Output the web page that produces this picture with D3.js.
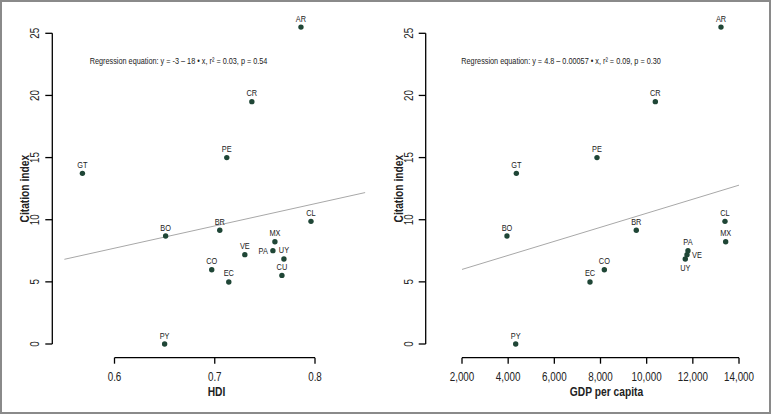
<!DOCTYPE html>
<html><head><meta charset="utf-8">
<script src="https://cdn.jsdelivr.net/npm/d3@7"></script>
<style>
html,body{margin:0;padding:0;background:#fff;}
svg{display:block;}
text{font-family:"Liberation Sans",Arial,sans-serif;fill:#222;}
</style></head>
<body>
<svg id="chart" width="771" height="414"></svg>
<script>
// ---- data ----
const countries = ["AR","CR","PE","GT","BO","BR","CL","MX","VE","PA","UY","CO","CU","EC","PY"];
const hdi       = [0.786,0.737,0.712,0.568,0.651,0.705,0.796,0.760,0.730,0.758,0.769,0.697,0.767,0.714,0.650];
const gdp       = [13220,10375,7848,4354,3949,9551,13393,13423,11747,11790,11673,8166,null,7545,4326];
const citation  = [25.5,19.5,15.0,13.73,8.69,9.15,9.87,8.23,7.19,7.51,6.84,5.98,5.52,4.99,0.0];

const yTicks    = [0,5,10,15,20,25];
const hdiTicks  = [0.6,0.7,0.8];
const gdpTicks  = [2000,4000,6000,8000,10000,12000,14000];

const hdiFit = {intercept:-3.03, slope:17.9, from:0.55, to:0.85};
const gdpFit = {intercept:4.87, slope:0.000565, from:2000, to:14000};
const hdiEq = "Regression equation: y = -3 \u2013 18 \u2022 x, r\u00b2 = 0.03, p = 0.54";
const gdpEq = "Regression equation: y = 4.8 \u2013 0.00057 \u2022 x, r\u00b2 = 0.09, p = 0.30";

// ---- drawing ----
const svg = d3.select("#chart");
svg.append("rect").attr("x",1).attr("y",1).attr("width",769).attr("height",412)
  .attr("fill","none").attr("stroke","#8a8a8a").attr("stroke-width",2);

const NARROW = 0.82;
function ntext(parent, x, y0, rot, str, size, anchor, weight, fill){
  const t = parent.append("g").attr("transform",`translate(${x},${y0}) rotate(${rot}) scale(${NARROW},1)`)
    .append("text").attr("x",0).attr("y",0).attr("font-size",size).attr("text-anchor",anchor||"start")
    .text(str);
  if(weight) t.attr("font-weight",weight);
  if(fill) t.attr("fill",fill);
  return t;
}

const y = d3.scaleLinear().domain([0,25]).range([344,33.3]);
const ptColor = "#1f4636";

function panel(opts){
  const g = svg.append("g");
  const x = d3.scaleLinear().domain(opts.xdom).range(opts.xrange);
  // y axis
  const ya = g.append("g").attr("transform",`translate(${opts.yAxisX},0)`);
  ya.append("line").attr("y1",y(0)).attr("y2",y(25)).attr("stroke","#000").attr("stroke-width",1.3);
  yTicks.forEach(t=>{
    ya.append("line").attr("x1",0).attr("x2",-7).attr("y1",y(t)).attr("y2",y(t)).attr("stroke","#000").attr("stroke-width",1.3);
    ntext(ya, -13, y(t), -90, t, 12, "middle", null, "#333");
  });
  ntext(g, opts.yAxisX-23, (y(0)+y(25))/2, -90, "Citation index", 12.5, "middle", "bold", "#111");
  // x axis
  const axY = 357.7;
  const xa = g.append("g");
  xa.append("line").attr("x1",x(opts.ticks[0])).attr("x2",x(opts.ticks[opts.ticks.length-1]))
    .attr("y1",axY).attr("y2",axY).attr("stroke","#000").attr("stroke-width",1.3);
  opts.ticks.forEach(t=>{
    xa.append("line").attr("x1",x(t)).attr("x2",x(t)).attr("y1",axY).attr("y2",axY+6).attr("stroke","#000").attr("stroke-width",1.3);
    ntext(xa, x(t), 381, 0, opts.fmt(t), 12, "middle", null, "#333");
  });
  ntext(g, opts.titleX, 395.5, 0, opts.title, 12.5, "middle", "bold", "#111");
  // regression line
  const f = opts.fit;
  g.append("line").attr("x1",x(f.from)).attr("x2",x(f.to))
    .attr("y1",y(f.intercept+f.slope*f.from)).attr("y2",y(f.intercept+f.slope*f.to))
    .attr("stroke","#a8a8a8").attr("stroke-width",1);
  ntext(g, opts.eqX, 63.5, 0, opts.eq, 8.9, "start", null, "#333");
  // points
  const pts = countries.map((c,i)=>({c, xv:opts.xs[i], yv:citation[i]})).filter(d=>d.xv!=null);
  g.selectAll("circle").data(pts).enter().append("circle")
    .attr("cx",d=>x(d.xv)).attr("cy",d=>y(d.yv)).attr("r",2.7).attr("fill",ptColor);
  pts.forEach(d=>{
    const p = opts.place[d.c] || "above";
    const cx = x(d.xv), cy = y(d.yv);
    if(p==="left") ntext(g, cx-5, cy+3, 0, d.c, 9, "end", null, "#333");
    else if(p==="right") ntext(g, cx+5, cy+3, 0, d.c, 9, "start", null, "#333");
    else if(p==="below") ntext(g, cx, cy+12.5, 0, d.c, 9, "middle", null, "#333");
    else ntext(g, cx, cy-5.5, 0, d.c, 9, "middle", null, "#333");
  });
}

panel({xdom:[0.6,0.8], xrange:[114.5,315], yAxisX:52.3, ticks:hdiTicks, fmt:d3.format(".1f"),
  title:"HDI", titleX:216.5, fit:hdiFit, eq:hdiEq, eqX:89.7, xs:hdi, place:{PA:"left"}});
panel({xdom:[2000,14000], xrange:[462,739], yAxisX:425.7, ticks:gdpTicks, fmt:d3.format(","),
  title:"GDP per capita", titleX:606.5, fit:gdpFit, eq:gdpEq, eqX:461.3, xs:gdp, place:{VE:"right",UY:"below"}});
</script>
</body></html>
